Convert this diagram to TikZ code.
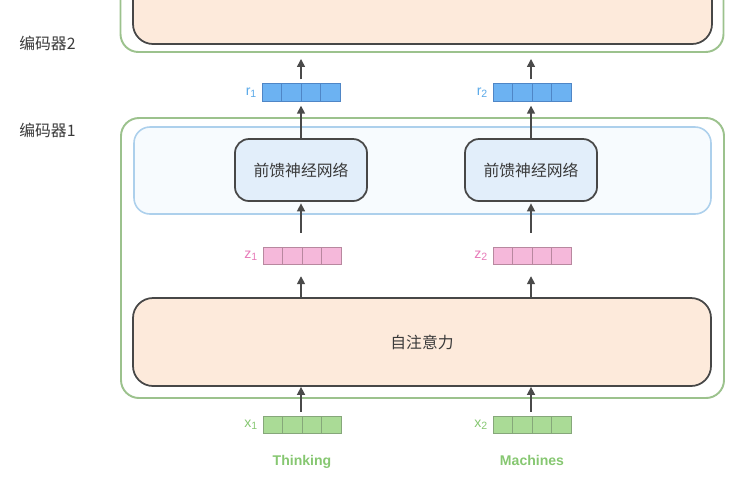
\documentclass[tikz,border=0pt]{standalone}
\usepackage{fontspec}
\setmainfont{Liberation Sans}
\newfontfamily\cjk{Noto Sans CJK SC}
\usetikzlibrary{
    arrows.meta,
    positioning,
    calc
}
\definecolor{encgreen}{HTML}{9CC28D}
\definecolor{ffnline}{HTML}{ADD0EC}
\definecolor{ffnfill}{HTML}{F7FBFE}
\definecolor{ffnnode}{HTML}{E2EEFA}
\definecolor{attnfill}{HTML}{FDEADB}
\definecolor{boxline}{HTML}{474747}
\definecolor{arrowgray}{HTML}{4A4A4A}
\definecolor{labelgray}{HTML}{3A3A3A}
\definecolor{rfill}{HTML}{6CB2F2}
\definecolor{rline}{HTML}{4F86C6}
\definecolor{rtext}{HTML}{5AA9E8}
\definecolor{zfill}{HTML}{F5B8DA}
\definecolor{zline}{HTML}{B8889F}
\definecolor{ztext}{HTML}{E77AB8}
\definecolor{xfill}{HTML}{AADB96}
\definecolor{xline}{HTML}{86A77A}
\definecolor{xtext}{HTML}{86C771}
\tikzset{
    encoder/.style = {
        rectangle,
        rounded corners=3.6mm,
        draw=encgreen,
        line width=1.1pt,
        minimum width=120.6mm,
        minimum height=56mm
    },
    ffnlayer/.style = {
        rectangle,
        rounded corners=3.2mm,
        draw=ffnline,
        fill=ffnfill,
        line width=0.9pt,
        minimum width=115.4mm,
        minimum height=17.4mm
    },
    ffn/.style = {
        rectangle,
        rounded corners=2.8mm,
        draw=boxline,
        fill=ffnnode,
        line width=1pt,
        minimum width=26.4mm,
        minimum height=12.4mm,
        font=\cjk\fontsize{9}{11}\selectfont,
        text=labelgray
    },
    attn/.style = {
        rectangle,
        rounded corners=4mm,
        draw=boxline,
        fill=attnfill,
        line width=1pt,
        minimum width=115.6mm,
        minimum height=17.6mm,
        font=\cjk\fontsize{9}{11}\selectfont,
        text=labelgray
    },
    vecbox/.style = {
        rectangle,
        draw,
        line width=0.5pt,
        inner sep=0pt,
        minimum width=15.6mm,
        minimum height=3.5mm
    },
    veclabel/.style = {
        inner sep=0pt,
        font=\fontsize{8}{9}\selectfont
    },
    layerlabel/.style = {
        anchor=west,
        inner sep=0pt,
        font=\cjk\fontsize{9}{11}\selectfont,
        text=labelgray
    },
    word/.style = {
        inner sep=0pt,
        font=\bfseries\fontsize{8}{10}\selectfont,
        text=xtext
    },
    arrow/.style = {
        -{Triangle[length=1.6mm,width=1.6mm]},
        draw=arrowgray,
        line width=0.9pt
    }
}

\begin{document}
\begin{tikzpicture}[x=0.2mm,y=-0.2mm]
\useasboundingbox (0,0) rectangle (756,482);

% encoder 2, only its lower edge is shown
\begin{scope}
\clip (0,0) rectangle (756,482);
\node (enc2) [encoder, minimum height=26.4mm] at (422,-14) {};
\node (enc2attn) [attn, minimum width=115.8mm, minimum height=22.8mm] at (422.5,-13) {};
\end{scope}

% encoder 1
\node (enc1) [encoder] at (422.5,258) {};
\node (ffnlayer) [ffnlayer] at (422.5,170.5) {};
\node (ffn1) [ffn] at (301,170) {前馈神经网络};
\node (ffn2) [ffn] at (531,170) {前馈神经网络};
\node (attn) [attn] at (422,342) {自注意力};

\node (lab2) [layerlabel] at (19,43) {编码器2};
\node (lab1) [layerlabel] at (19,130) {编码器1};

% vectors
\node (r1) [vecbox, draw=rline, fill=rfill] at (301,92.5) {};
\node (r2) [vecbox, draw=rline, fill=rfill] at (532,92.5) {};
\node (z1) [vecbox, draw=zline, fill=zfill] at (302,256) {};
\node (z2) [vecbox, draw=zline, fill=zfill] at (532,256) {};
\node (x1) [vecbox, draw=xline, fill=xfill] at (302,425) {};
\node (x2) [vecbox, draw=xline, fill=xfill] at (532,425) {};
\foreach \v/\c in {r1/rline,r2/rline,z1/zline,z2/zline,x1/xline,x2/xline}
    \foreach \k in {1,2,3}
        \draw [\c, line width=0.5pt] ($(\v.south west)!\k/4!(\v.south east)$) -- ($(\v.north west)!\k/4!(\v.north east)$);

\node (r1lab) [veclabel, left=0.8mm of r1, text=rtext] {r\textsubscript{1}};
\node (r2lab) [veclabel, left=0.8mm of r2, text=rtext] {r\textsubscript{2}};
\node (z1lab) [veclabel, left=0.8mm of z1, text=ztext] {z\textsubscript{1}};
\node (z2lab) [veclabel, left=0.8mm of z2, text=ztext] {z\textsubscript{2}};
\node (x1lab) [veclabel, left=0.8mm of x1, text=xtext] {x\textsubscript{1}};
\node (x2lab) [veclabel, left=0.8mm of x2, text=xtext] {x\textsubscript{2}};

\node (think) [word, below=4.2mm of x1] {Thinking};
\node (mach) [word, below=4.2mm of x2] {Machines};

% arrows
\draw [arrow, shorten <=0.8mm] (ffn1.south |- x1.north) -- (ffn1.south |- attn.south);
\draw [arrow, shorten <=0.8mm] (ffn2.south |- x2.north) -- (ffn2.south |- attn.south);
\draw [arrow, shorten >=2.2mm] (ffn1.south |- attn.north) -- (ffn1.south |- z1.south);
\draw [arrow, shorten >=2.2mm] (ffn2.south |- attn.north) -- (ffn2.south |- z2.south);
\draw [arrow, shorten <=2.8mm, shorten >=0.3mm] (ffn1.south |- z1.north) -- (ffn1.south);
\draw [arrow, shorten <=2.8mm, shorten >=0.3mm] (ffn2.south |- z2.north) -- (ffn2.south);
\draw [arrow, shorten >=0.8mm] (ffn1.north) -- (ffn1.north |- r1.south);
\draw [arrow, shorten >=0.8mm] (ffn2.north) -- (ffn2.north |- r2.south);
\draw [arrow, shorten <=0.8mm, shorten >=1.2mm] (ffn1.north |- r1.north) -- (ffn1.north |- enc2.south);
\draw [arrow, shorten <=0.8mm, shorten >=1.2mm] (ffn2.north |- r2.north) -- (ffn2.north |- enc2.south);
\end{tikzpicture}
\end{document}
